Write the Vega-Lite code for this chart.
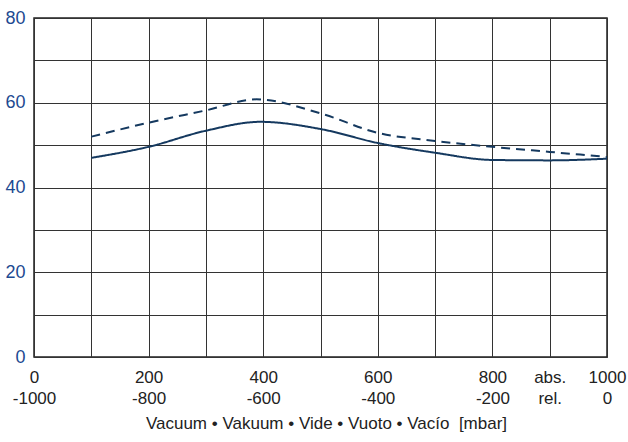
{
  "$schema": "https://vega.github.io/schema/vega-lite/v6.json",
  "width": 573,
  "height": 339,
  "autosize": {"type": "none"},
  "padding": {"left": 34, "top": 18, "right": 21, "bottom": 85},
  "config": {
    "view": {"stroke": "#222222", "strokeWidth": 1.5},
    "font": "Liberation Sans"
  },
  "data": {
    "values": [
      {"x": 100, "y": 47.0, "s": "solid"},
      {"x": 200, "y": 49.6, "s": "solid"},
      {"x": 300, "y": 53.4, "s": "solid"},
      {"x": 395, "y": 55.5, "s": "solid"},
      {"x": 500, "y": 53.8, "s": "solid"},
      {"x": 600, "y": 50.5, "s": "solid"},
      {"x": 700, "y": 48.2, "s": "solid"},
      {"x": 800, "y": 46.5, "s": "solid"},
      {"x": 900, "y": 46.4, "s": "solid"},
      {"x": 1000, "y": 46.8, "s": "solid"},
      {"x": 100, "y": 52.0, "s": "dashed"},
      {"x": 200, "y": 55.3, "s": "dashed"},
      {"x": 300, "y": 58.2, "s": "dashed"},
      {"x": 388, "y": 60.8, "s": "dashed"},
      {"x": 500, "y": 57.5, "s": "dashed"},
      {"x": 600, "y": 52.9, "s": "dashed"},
      {"x": 700, "y": 51.0, "s": "dashed"},
      {"x": 800, "y": 49.6, "s": "dashed"},
      {"x": 900, "y": 48.4, "s": "dashed"},
      {"x": 1000, "y": 47.2, "s": "dashed"}
    ]
  },
  "mark": {"type": "line", "interpolate": "monotone", "strokeWidth": 2, "color": "#15395f"},
  "encoding": {
    "x": {
      "field": "x", "type": "quantitative",
      "scale": {"domain": [0, 1000], "nice": false},
      "axis": {
        "values": [0, 100, 200, 300, 400, 500, 600, 700, 800, 900, 1000],
        "labelExpr": "datum.value == 900 ? ['abs.', 'rel.'] : (datum.value % 200 == 0 ? ['' + datum.value, datum.value == 1000 ? '0' : '-' + (1000 - datum.value)] : '')",
        "labelFontSize": 17,
        "labelColor": "#222222",
        "labelLineHeight": 21,
        "labelPadding": 12,
        "labelFlush": false,
        "labelOverlap": false,
        "tickSize": 0,
        "domain": false,
        "grid": true,
        "gridColor": "#333333",
        "gridWidth": 1,
        "gridOpacity": 1,
        "title": "Vacuum • Vakuum • Vide • Vuoto • Vacío \u00a0[mbar]",
        "titleFontSize": 17,
        "titleFontWeight": "normal",
        "titleColor": "#222222",
        "titlePadding": 9,
        "titleX": 292
      }
    },
    "y": {
      "field": "y", "type": "quantitative",
      "scale": {"domain": [0, 80], "nice": false},
      "axis": {
        "values": [0, 10, 20, 30, 40, 50, 60, 70, 80],
        "labelExpr": "datum.value % 20 == 0 ? datum.label : ''",
        "labelFontSize": 18,
        "labelColor": "#1d4a91",
        "labelPadding": 9,
        "labelFlush": false,
        "labelOverlap": false,
        "tickSize": 0,
        "domain": false,
        "grid": true,
        "gridColor": "#333333",
        "gridWidth": 1,
        "gridOpacity": 1,
        "title": null
      }
    },
    "strokeDash": {
      "field": "s", "type": "nominal",
      "scale": {"domain": ["solid", "dashed"], "range": [[1, 0], [9, 6]]},
      "legend": null
    }
  }
}
